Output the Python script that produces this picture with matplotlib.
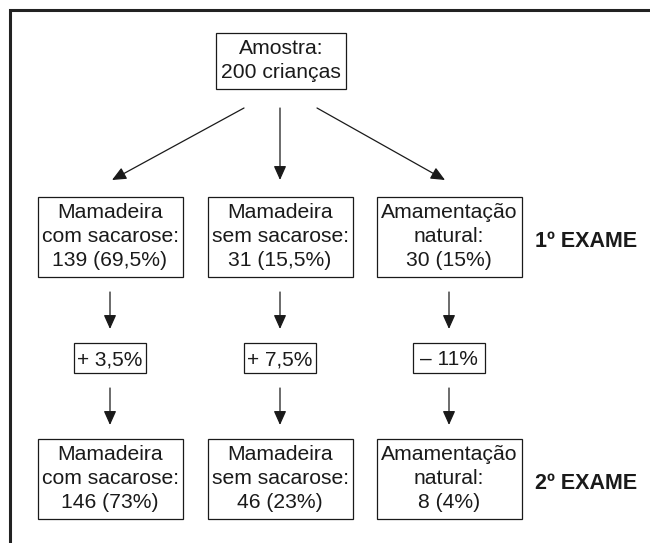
import matplotlib
matplotlib.use("Agg")
import matplotlib.pyplot as plt
from matplotlib.patches import Rectangle

plt.rcParams['font.family'] = ['Liberation Sans', 'DejaVu Sans']

sample_label = ["Amostra:", "200 crianças"]
group_names = [["Mamadeira", "com sacarose:"],
               ["Mamadeira", "sem sacarose:"],
               ["Amamentação", "natural:"]]
exam1_counts = [139, 31, 30]
exam1_pct = ["69,5%", "15,5%", "15%"]
exam2_counts = [146, 46, 8]
exam2_pct = ["73%", "23%", "4%"]
changes = ["+ 3,5%", "+ 7,5%", "– 11%"]
exam_labels = ["1º EXAME", "2º EXAME"]

INK = "#1a1a1a"
FS = 15.2

fig = plt.figure(figsize=(6.5, 5.43), dpi=100)
ax = fig.add_axes([0, 0, 1, 1])
ax.set_xlim(0, 650)
ax.set_ylim(543, 0)
ax.axis('off')

# outer frame (top and left only)
ax.plot([10, 10, 650], [543, 10, 10], color="#222222", lw=2.2,
        solid_joinstyle='miter')


def box(cx, top, w, lines, pad_top=21, step=24, pad_bot=11, fs=FS):
    h = pad_top + step * (len(lines) - 1) + pad_bot
    ax.add_patch(Rectangle((cx - w / 2, top), w, h, fill=False,
                           ec=INK, lw=0.9))
    for i, t in enumerate(lines):
        ax.text(cx, top + pad_top + i * step, t, ha='center', va='baseline',
                fontsize=fs, color=INK)


def arrow(x0, y0, x1, y1):
    ax.annotate('', xy=(x1, y1), xytext=(x0, y0),
                arrowprops=dict(arrowstyle='-|>,head_length=0.85,head_width=0.38',
                                mutation_scale=10, lw=0.9, color=INK,
                                shrinkA=0, shrinkB=0))


cols = [110, 280, 449]
bw = 145

# sample box and split arrows
box(281, 33, 130, sample_label)
arrow(244, 108, cols[0] + 2, 180)
arrow(280, 108, cols[1], 180)
arrow(317, 108, cols[2] - 4, 180)

for i, cx in enumerate(cols):
    box(cx, 197, bw, group_names[i] + [f"{exam1_counts[i]} ({exam1_pct[i]})"])
    arrow(cx, 292, cx, 329)
    box(cx, 343, 72, [changes[i]], pad_top=22, step=0, pad_bot=8, fs=15)
    arrow(cx, 388, cx, 425)
    box(cx, 439, bw, group_names[i] + [f"{exam2_counts[i]} ({exam2_pct[i]})"])

ax.text(586, 247, exam_labels[0], ha='center', va='baseline',
        fontsize=15.5, fontweight='bold', color=INK)
ax.text(586, 489, exam_labels[1], ha='center', va='baseline',
        fontsize=15.5, fontweight='bold', color=INK)

fig.savefig("out.png", dpi=100)
